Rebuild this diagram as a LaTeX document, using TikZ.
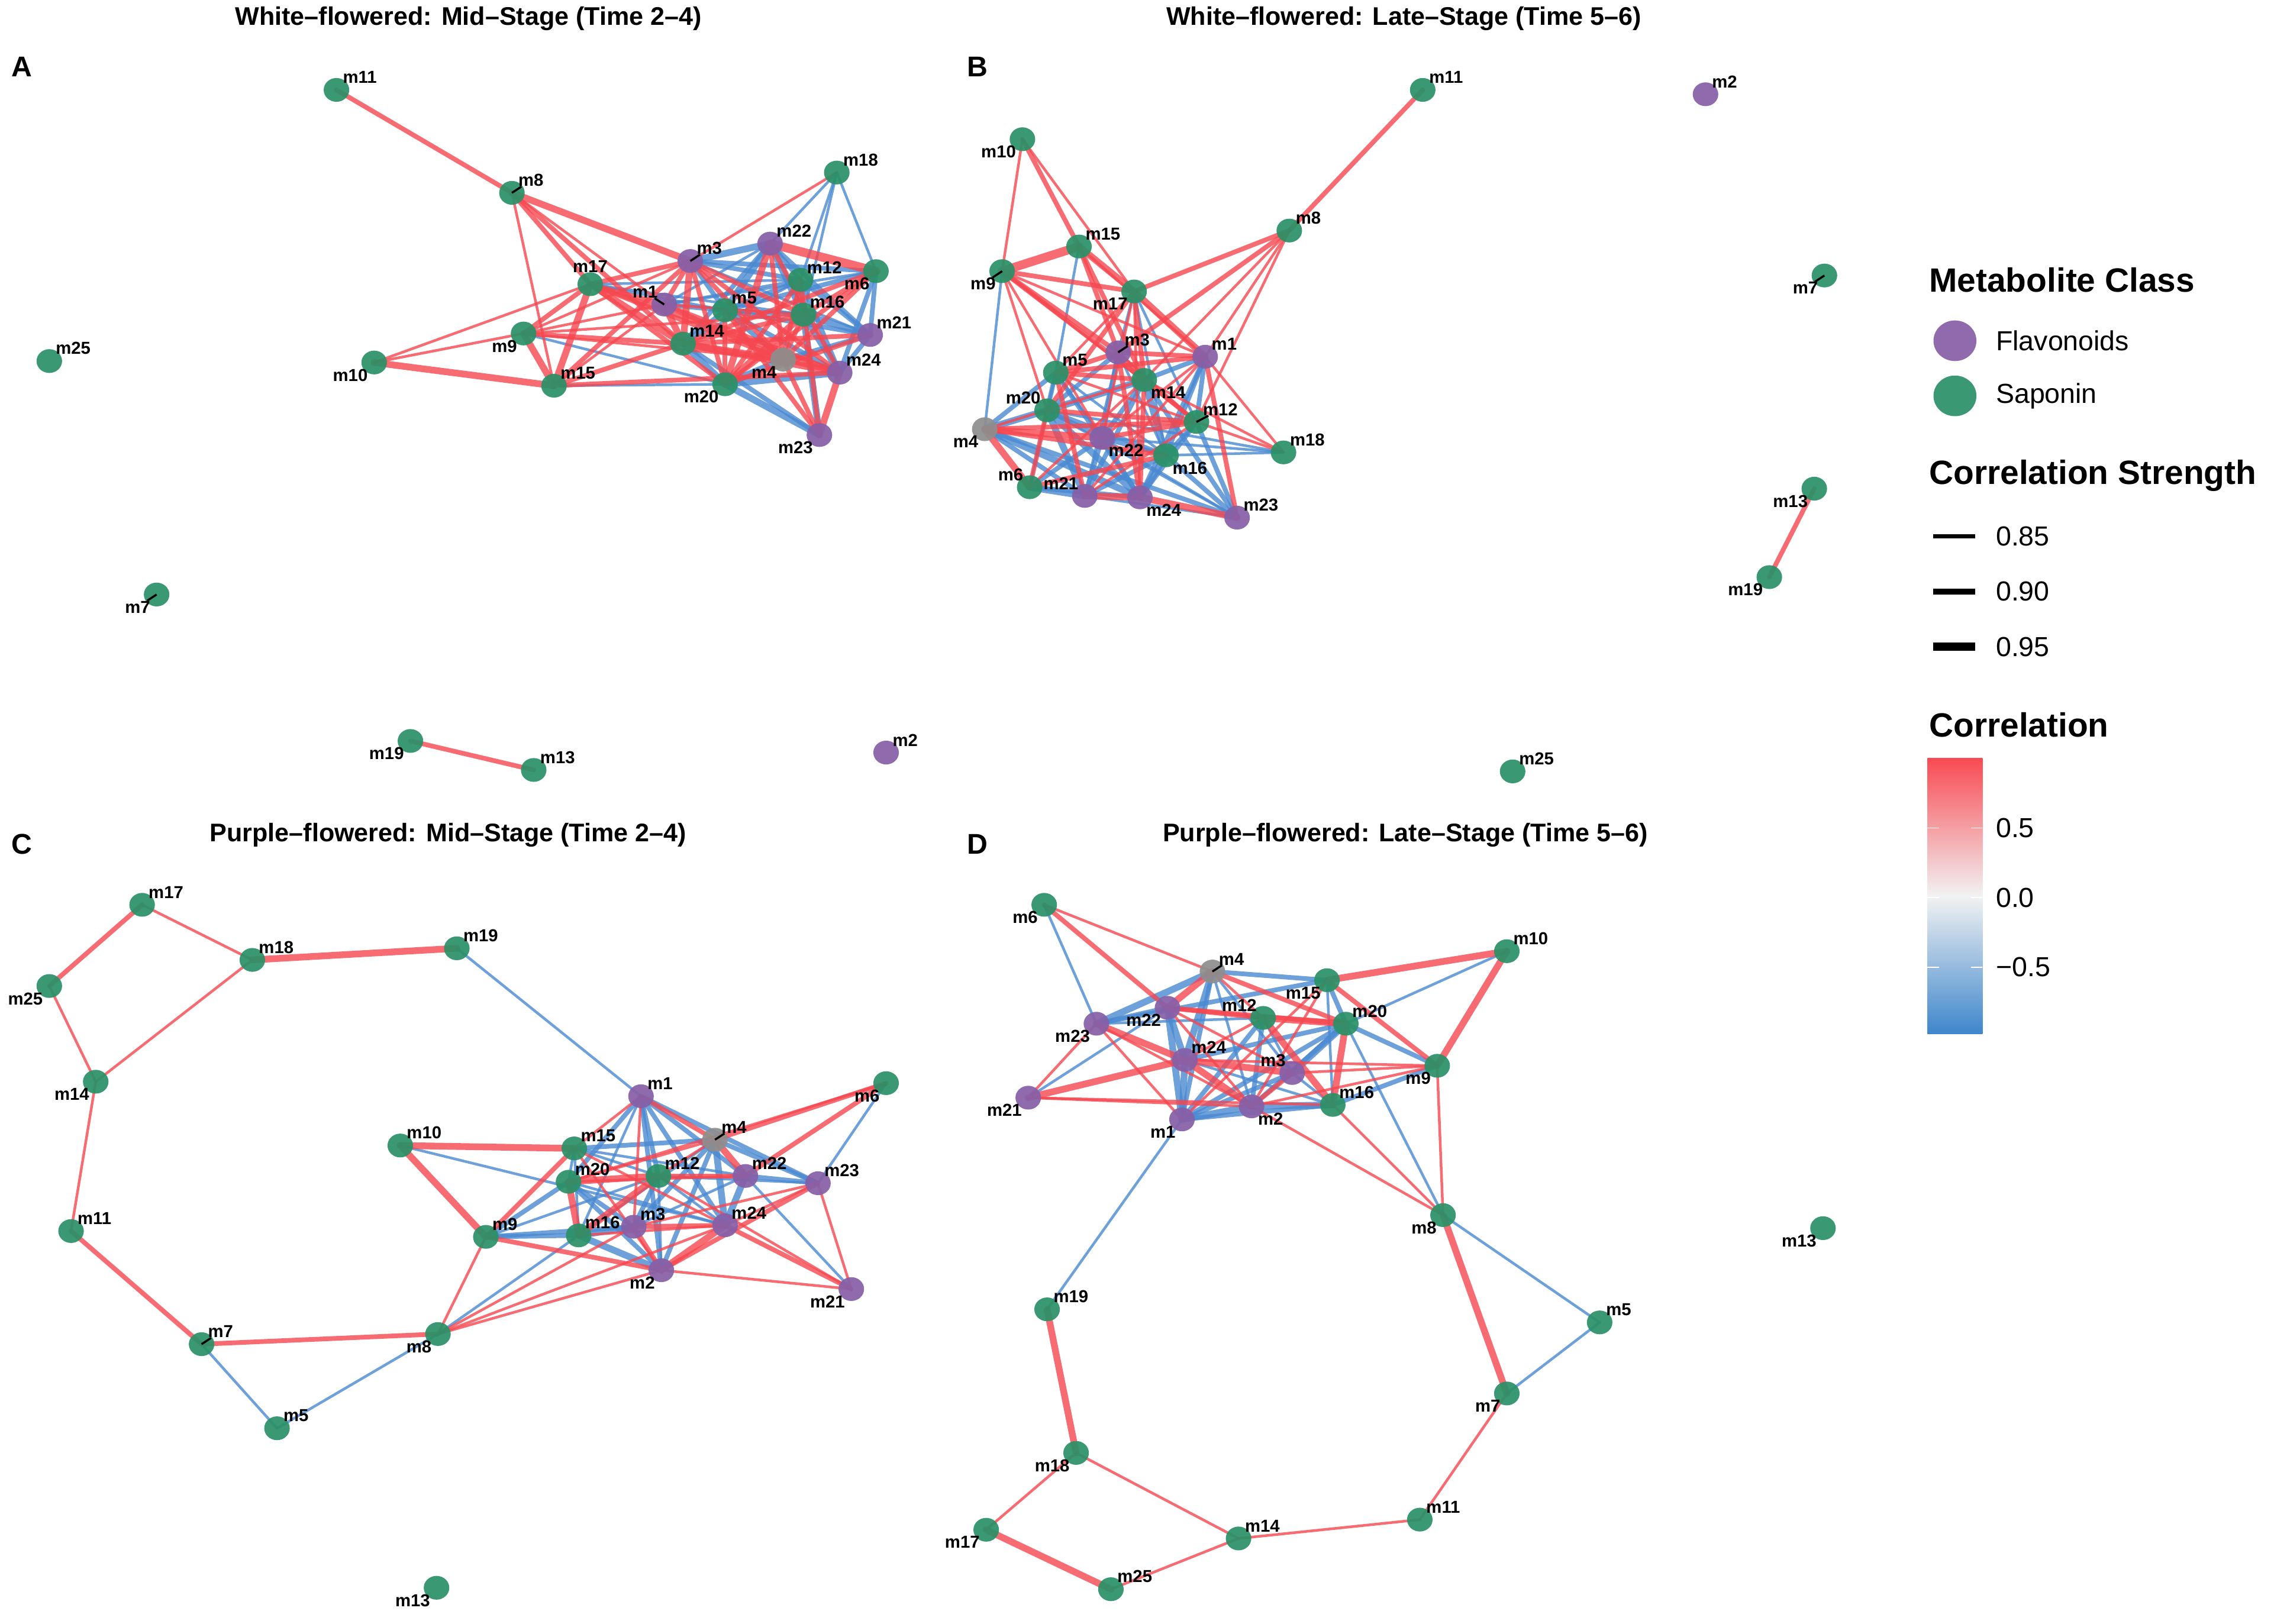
\documentclass[tikz,border=0pt]{standalone}
\usepackage{fontspec}
\setmainfont{Liberation Sans}
\usetikzlibrary{shapes.geometric, calc, backgrounds}
\definecolor{flav}{HTML}{8660A8}
\definecolor{sapo}{HTML}{2B9168}
\definecolor{unkn}{HTML}{8E8E8E}
\definecolor{corpos}{HTML}{F5474F}
\definecolor{corneg}{HTML}{4A88D0}
\definecolor{barpos}{HTML}{F84B53}
\definecolor{barneg}{HTML}{3E86CC}
\definecolor{barmid}{HTML}{F2F2F2}
\tikzset{
  met/.style={ellipse, minimum width=0.44cm, minimum height=0.41cm, inner sep=0pt, fill=#1, fill opacity=0.93},
  mlab/.style={font=\fontsize{8.5}{9}\selectfont\bfseries, inner sep=0.5pt},
  tne/.style={anchor=south west, xshift=2.5pt, yshift=2.5pt},
  tnw/.style={anchor=south east, xshift=-2.5pt, yshift=2.5pt},
  tsw/.style={anchor=north east, xshift=-2.5pt, yshift=-2.5pt},
  tse/.style={anchor=north west, xshift=2.5pt, yshift=-2.5pt},
  tn/.style={anchor=south, yshift=5pt},
  edgepos/.style={draw=corpos, draw opacity=0.8, line cap=round},
  edgeneg/.style={draw=corneg, draw opacity=0.8, line cap=round},
  rep/.style={draw=black, line width=1pt},
  ttl/.style={font=\fontsize{12.5}{14}\selectfont\bfseries},
  pnl/.style={font=\fontsize{14}{16}\selectfont\bfseries},
  lgt/.style={font=\fontsize{16.5}{19}\selectfont\bfseries, anchor=west, inner sep=0pt},
  lgi/.style={font=\fontsize{13.5}{16}\selectfont, anchor=west, inner sep=0pt},
}

\begin{document}
\begin{tikzpicture}[x=0.025cm, y=-0.025cm]
  \useasboundingbox (0,0) rectangle (1568,1120);

  \node[ttl] (ta) at (323,13) {White–flowered: Mid–Stage (Time 2–4)};
  \node[ttl] (tb) at (968,13) {White–flowered: Late–Stage (Time 5–6)};
  \node[ttl] (tc) at (309,576) {Purple–flowered: Mid–Stage (Time 2–4)};
  \node[ttl] (td) at (969,576) {Purple–flowered: Late–Stage (Time 5–6)};
  \node[pnl] (pa) at (15,46) {A};
  \node[pnl] (pb) at (674,46) {B};
  \node[pnl] (pc) at (15,582) {C};
  \node[pnl] (pd) at (674,582) {D};

  \foreach \n/\x/\y/\c/\d in {1/458/210/flav/tnw, 2/611/519/flav/tne, 3/476/180/flav/tne, 4/540/248/unkn/tsw, 5/500/214/sapo/tne,
    6/604/187/sapo/tsw, 7/108/410/sapo/tsw, 8/353/133/sapo/tne, 9/361/230/sapo/tsw, 10/258/250/sapo/tsw, 11/232/62/sapo/tne,
    12/552/193/sapo/tne, 13/368/531/sapo/tne, 14/471/237/sapo/tne, 15/382/266/sapo/tne, 16/554/217/sapo/tne, 17/407/196/sapo/tn,
    18/577/119/sapo/tne, 19/283/511/sapo/tsw, 20/500/265/sapo/tsw, 21/600/231/flav/tne, 22/531/168/flav/tne, 23/565/300/flav/tsw,
    24/579/257/flav/tne, 25/34/249/sapo/tne} {
    \node[met=\c] (a\n) at (\x,\y) {};
    \node[mlab, \d] (a\n-t) at (a\n.center) {m\n};
  }
  \foreach \n/\x/\y/\c/\d in {1/831/246/flav/tne, 2/1176/65/flav/tne, 3/771/243/flav/tne, 4/679/296/unkn/tsw, 5/728/257/sapo/tne,
    6/710/336/sapo/tnw, 7/1258/190/sapo/tsw, 8/889/159/sapo/tne, 9/691/187/sapo/tsw, 10/705/96/sapo/tsw, 11/981/62/sapo/tne,
    12/825/291/sapo/tne, 13/1251/337/sapo/tsw, 14/789/262/sapo/tse, 15/744/170/sapo/tne, 16/804/314/sapo/tse, 17/782/201/sapo/tsw,
    18/885/312/sapo/tne, 19/1220/398/sapo/tsw, 20/722/283/sapo/tnw, 21/748/342/flav/tnw, 22/760/302/flav/tse, 23/853/357/flav/tne,
    24/786/343/flav/tse, 25/1043/532/sapo/tne} {
    \node[met=\c] (b\n) at (\x,\y) {};
    \node[mlab, \d] (b\n-t) at (b\n.center) {m\n};
  }
  \foreach \n/\x/\y/\c/\d in {1/442/756/flav/tne, 2/456/876/flav/tsw, 3/437/846/flav/tne, 4/493/786/unkn/tne, 5/191/985/sapo/tne,
    6/611/747/sapo/tsw, 7/139/927/sapo/tne, 8/302/920/sapo/tsw, 9/335/853/sapo/tne, 10/276/790/sapo/tne, 11/49/849/sapo/tne,
    12/454/811/sapo/tne, 13/301/1095/sapo/tsw, 14/66/746/sapo/tsw, 15/396/792/sapo/tne, 16/399/852/sapo/tne, 17/98/624/sapo/tne,
    18/174/662/sapo/tne, 19/315/654/sapo/tne, 20/392/815/sapo/tne, 21/587/889/flav/tsw, 22/514/811/flav/tne, 23/564/816/flav/tne,
    24/500/845/flav/tne, 25/34/680/sapo/tsw} {
    \node[met=\c] (c\n) at (\x,\y) {};
    \node[mlab, \d] (c\n-t) at (c\n.center) {m\n};
  }
  \foreach \n/\x/\y/\c/\d in {1/815/772/flav/tsw, 2/863/763/flav/tse, 3/891/740/flav/tnw, 4/836/670/unkn/tne, 5/1103/912/sapo/tne,
    6/720/624/sapo/tsw, 7/1039/961/sapo/tsw, 8/995/838/sapo/tsw, 9/991/735/sapo/tsw, 10/1039/656/sapo/tne, 11/979/1048/sapo/tne,
    12/871/702/sapo/tnw, 13/1257/847/sapo/tsw, 14/854/1061/sapo/tne, 15/915/676/sapo/tsw, 16/919/762/sapo/tne, 17/680/1055/sapo/tsw,
    18/742/1002/sapo/tsw, 19/722/903/sapo/tne, 20/928/706/sapo/tne, 21/709/757/flav/tsw, 22/805/695/flav/tsw, 23/756/706/flav/tsw,
    24/817/731/flav/tne, 25/766/1096/sapo/tne} {
    \node[met=\c] (d\n) at (\x,\y) {};
    \node[mlab, \d] (d\n-t) at (d\n.center) {m\n};
  }

  \begin{scope}[on background layer]
    \foreach \u/\v/\w in {a9/a20/1, a15/a20/1, a17/a5/1, a17/a12/1, a17/a16/1, a3/a22/3, a3/a12/2, a3/a5/2, a3/a6/2, a3/a21/1,
      a1/a5/2, a1/a12/1, a1/a6/1, a1/a22/1, a14/a5/2, a14/a22/2, a14/a12/1, a14/a20/3, a14/a23/2, a22/a12/2, a22/a16/3, a22/a5/3,
      a22/a21/2, a12/a5/2, a12/a16/2, a12/a21/2, a12/a24/2, a6/a21/2, a6/a24/2, a6/a5/2, a6/a18/1, a5/a16/2, a5/a4/2, a5/a24/2,
      a5/a21/2, a16/a24/3, a16/a21/3, a16/a23/3, a16/a18/1, a21/a4/2, a21/a24/2, a20/a4/3, a20/a24/3, a20/a23/3, a18/a22/1, a18/a12/1,
      b9/b4/1, b15/b5/1, b17/b3/1, b17/b12/1, b17/b16/1, b3/b20/2, b3/b22/2, b3/b21/1, b3/b16/1, b1/b14/2, b1/b12/2, b1/b16/2,
      b1/b24/2, b5/b20/2, b5/b4/2, b5/b22/1, b5/b24/2, b5/b16/1, b5/b6/1, b14/b20/3, b14/b22/2, b14/b16/3, b14/b21/2, b14/b23/2,
      b20/b4/3, b20/b22/2, b20/b21/3, b20/b24/3, b20/b16/2, b20/b23/1, b4/b21/2, b4/b24/3, b4/b23/2, b22/b16/2, b22/b21/2, b22/b24/2,
      b22/b23/1, b22/b6/2, b22/b18/1, b12/b16/2, b12/b23/2, b12/b24/2, b16/b24/3, b16/b21/2, b16/b18/1, b16/b23/2, b6/b21/3, b6/b24/2,
      b21/b23/1, b18/b20/1,
      c19/c1/1, c7/c5/1, c5/c8/1, c8/c16/1, c10/c24/1, c9/c20/2, c9/c3/2, c9/c12/1, c9/c16/2, c15/c4/2, c15/c12/1, c15/c22/1,
      c15/c16/1, c15/c20/1, c1/c12/2, c1/c2/2, c1/c24/2, c1/c22/2, c1/c20/2, c1/c16/1, c1/c23/2, c4/c24/3, c4/c2/2, c4/c3/2, c4/c16/1,
      c4/c23/2, c6/c23/1, c20/c3/2, c20/c2/2, c20/c24/1, c12/c3/2, c12/c2/1, c12/c24/1, c12/c23/1, c16/c3/3, c16/c2/3, c3/c22/1,
      c24/c22/3, c22/c23/2, c22/c21/1,
      d6/d23/1, d10/d20/1, d9/d20/2, d9/d16/2, d8/d5/1, d7/d5/1, d19/d1/1, d20/d8/1, d4/d15/2, d4/d23/3, d4/d24/3, d4/d1/2, d4/d2/1,
      d4/d3/1, d23/d22/2, d23/d15/2, d23/d12/1, d22/d1/3, d22/d24/3, d24/d1/3, d24/d20/2, d24/d16/1, d12/d1/2, d12/d2/2, d12/d3/1,
      d20/d3/3, d20/d2/2, d20/d1/2, d15/d20/2, d15/d16/1, d3/d1/2, d3/d16/1, d2/d16/3, d2/d1/3, d1/d16/2, d21/d22/1}
      \draw[edgeneg, line width=\w*1.0pt+0.3pt] (\u.center) -- (\v.center);
    \foreach \u/\v/\w in {a11/a8/2, a8/a3/3, a8/a17/2, a8/a15/1, a8/a14/2, a8/a1/1, a18/a3/1, a10/a17/1, a10/a9/1, a10/a15/3,
      a9/a15/3, a9/a17/2, a9/a3/1, a9/a14/2, a9/a1/1, a9/a4/1, a9/a16/1, a15/a17/3, a15/a14/2, a15/a3/2, a15/a1/1, a15/a24/2,
      a17/a3/2, a17/a1/2, a17/a14/3, a17/a4/2, a17/a24/2, a17/a20/2, a3/a1/2, a3/a14/3, a3/a20/2, a3/a4/2, a3/a16/2, a3/a24/2,
      a1/a14/3, a1/a4/2, a1/a24/2, a1/a16/1, a14/a4/3, a14/a24/3, a14/a21/2, a14/a16/2, a14/a6/2, a22/a6/4, a22/a20/3, a22/a4/2,
      a22/a24/2, a12/a20/2, a12/a23/2, a12/a4/2, a6/a16/2, a6/a20/2, a6/a4/2, a5/a20/2, a5/a23/2, a16/a20/3, a16/a4/2, a21/a20/2,
      a4/a24/2, a4/a23/2, a24/a23/3, a19/a13/2,
      b11/b8/2, b8/b17/2, b8/b3/2, b8/b14/1, b8/b1/1, b8/b12/1, b10/b9/1, b10/b15/2, b10/b17/1, b9/b15/4, b9/b17/2, b9/b3/2,
      b9/b14/2, b9/b22/1, b9/b12/1, b9/b1/1, b9/b20/1, b15/b17/3, b15/b3/2, b15/b14/2, b15/b1/1, b17/b1/3, b17/b14/2, b17/b22/1,
      b17/b5/1, b17/b20/2, b17/b24/1, b3/b1/2, b3/b5/2, b3/b14/2, b3/b12/1, b3/b24/2, b1/b5/2, b1/b23/2, b1/b22/1, b1/b21/1,
      b5/b14/2, b5/b21/2, b5/b12/1, b14/b24/2, b14/b12/2, b14/b6/1, b14/b4/1, b20/b6/2, b20/b12/2, b4/b6/3, b4/b22/3, b4/b16/2,
      b4/b12/2, b22/b12/2, b12/b18/1, b12/b21/1, b16/b6/2, b21/b24/3, b24/b23/3, b18/b14/1, b18/b1/1, b13/b19/2,
      c17/c18/1, c17/c25/2, c25/c14/1, c14/c18/1, c18/c19/3, c14/c11/1, c11/c7/2, c7/c8/2, c8/c9/1, c8/c3/1, c8/c24/1, c8/c2/1,
      c10/c15/3, c10/c9/3, c9/c15/2, c9/c2/2, c15/c1/1, c15/c2/1, c15/c24/1, c1/c4/2, c1/c3/1, c4/c6/2, c4/c22/3, c4/c12/1,
      c4/c20/1, c6/c22/2, c6/c20/1, c20/c12/3, c20/c16/3, c20/c22/1, c12/c22/2, c12/c16/3, c12/c21/1, c16/c24/1, c3/c24/2, c3/c2/2,
      c3/c23/1, c24/c2/3, c24/c21/2, c24/c23/1, c23/c21/1, c23/c2/2, c2/c21/1,
      d6/d4/1, d6/d22/2, d10/d15/3, d10/d9/3, d9/d15/2, d9/d8/1, d9/d2/1, d9/d24/1, d9/d3/1, d8/d7/3, d2/d8/1, d16/d8/1, d7/d11/1,
      d11/d14/1, d14/d25/1, d14/d18/1, d25/d17/3, d17/d18/1, d18/d19/3, d4/d22/3, d4/d12/1, d4/d20/2, d23/d24/3, d23/d21/1,
      d23/d2/1, d23/d1/1, d22/d12/2, d22/d20/2, d22/d2/1, d22/d3/1, d21/d24/3, d21/d2/1, d21/d16/1, d24/d2/3, d24/d3/3,
      d24/d12/1, d12/d20/3, d12/d16/3, d20/d16/3, d15/d2/1, d15/d1/1, d3/d2/2}
      \draw[edgepos, line width=\w*1.0pt+0.3pt] (\u.center) -- (\v.center);
  \end{scope}

  \foreach \n in {a8, a3, a1, a7, b9, b3, b12, b7, c4, c7, d4}
    \draw[rep] (\n.center) -- ($(\n.center)!0.5!(\n-t.center)$);

  \node[lgt] (lc) at (1330,193) {Metabolite Class};
  \node[met=flav, minimum width=0.74cm, minimum height=0.70cm] (kf) at (1348,235) {};
  \node[lgi] (kft) at (1376,235) {Flavonoids};
  \node[met=sapo, minimum width=0.74cm, minimum height=0.70cm] (ks) at (1348,273) {};
  \node[lgi] (kst) at (1376,273) {Saponin};
  \node[lgt] (ls) at (1330,328) {Correlation Strength};
  \foreach \y/\w/\t in {370/2.0/0.85, 408/3.0/0.90, 446/4.2/0.95} {
    \draw[line width=\w pt] (1333,\y) -- (1362,\y);
    \node[lgi] (w\t) at (1376,\y) {\t};
  }
  \node[lgt] (lr) at (1330,500) {Correlation};
  \shade[bottom color=barneg, top color=barpos, middle color=barmid] (1329,523) rectangle (1367,713);
  \foreach \y/\t in {571/0.5, 619/0.0, 667/−0.5} {
    \draw[white, line width=0.5pt] (1329,\y) -- (1337,\y) (1359,\y) -- (1367,\y);
    \node[lgi] (r\y) at (1376,\y) {\t};
  }
\end{tikzpicture}
\end{document}
